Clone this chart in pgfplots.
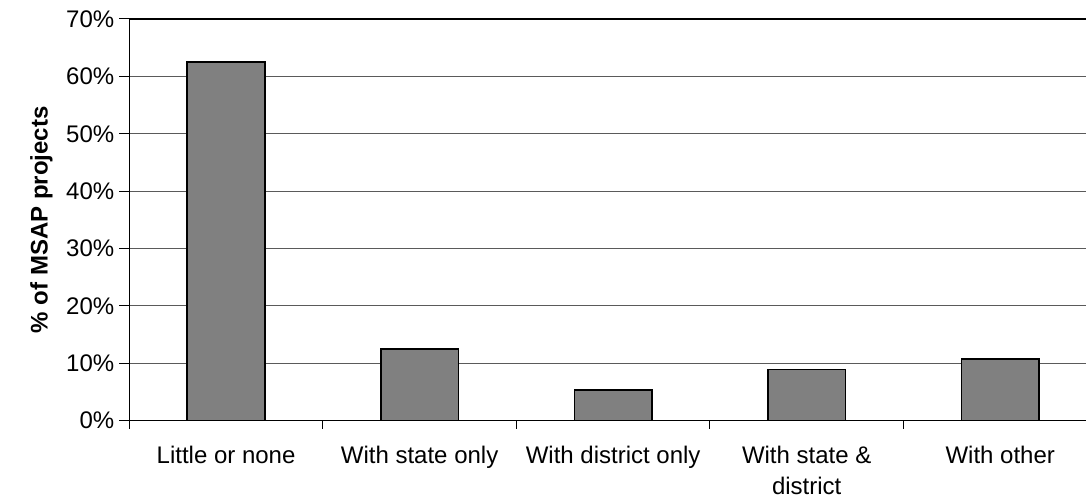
\documentclass[border=0pt]{standalone}
\usepackage{fontspec}
\setmainfont{Liberation Sans}
\usepackage{pgfplots}
\pgfplotsset{compat=1.18}
\definecolor{barfill}{HTML}{808080}
\definecolor{gridgray}{HTML}{5A5A5A}
\begin{document}
\begin{tikzpicture}
\begin{axis}[
  at={(0,0)}, anchor=south west,
  scale only axis,
  width=483.85pt, height=200.85pt,
  xmin=-0.5, xmax=4.5,
  ymin=0, ymax=70,
  font=\fontsize{12pt}{15.5pt}\selectfont,
  axis line style={black, line width=0.6pt},
  xtick={0,1,2,3,4},
  xticklabels={Little or none, With state only, With district only, {With state \&\\district}, With other},
  xticklabel style={align=center, yshift=-4pt},
  minor xtick={-0.5,0.5,1.5,2.5,3.5,4.5},
  major x tick style={draw=none},
  minor x tick style={black, line width=0.5pt},
  minor tick length=4pt,
  major tick length=5pt,
  tick align=outside,
  xtick pos=bottom, ytick pos=left,
  ytick={0,10,20,30,40,50,60,70},
  yticklabels={0\%,10\%,20\%,30\%,40\%,50\%,60\%,70\%},
  yticklabel style={xshift=1pt},
  y tick style={black, line width=0.5pt},
  ymajorgrids,
  major grid style={gridgray, line width=0.5pt},
  ylabel={\bfseries \% of MSAP projects},
  ylabel style={at={(axis description cs:0,0.5)}, anchor=center, yshift=44pt},
  ybar, bar width=38.85pt,
]
\addplot[fill=barfill, draw=black, line width=0.8pt] coordinates {
  (0,62.5) (1,12.5) (2,5.36) (3,8.93) (4,10.71)
};
\end{axis}
\pgfresetboundingbox
\useasboundingbox (-64.65pt,-40.65pt) rectangle (478.35pt,210.35pt);
\end{tikzpicture}
\end{document}
